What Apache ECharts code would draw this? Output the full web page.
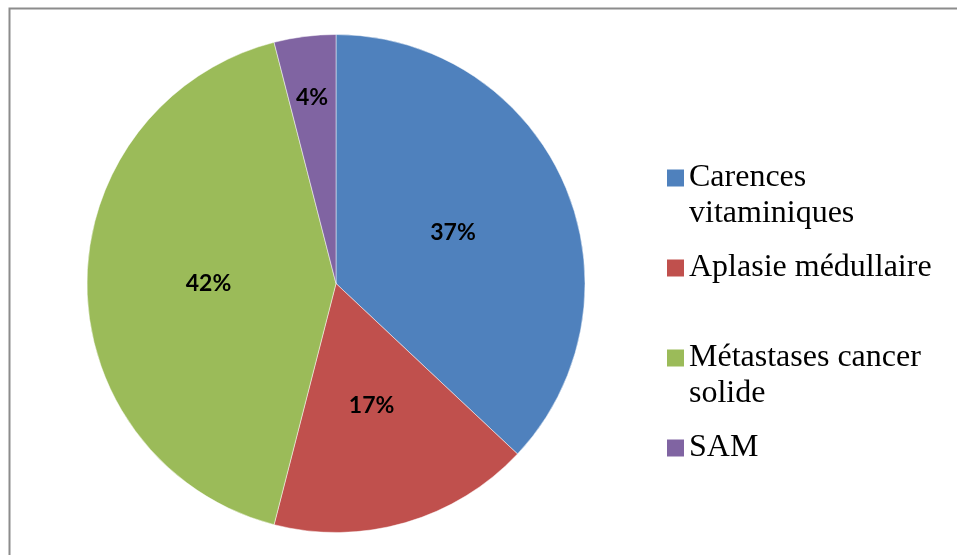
<!DOCTYPE html>
<html>
<head>
<meta charset="utf-8">
<script src="https://cdn.jsdelivr.net/npm/echarts@6/dist/echarts.min.js"></script>
<style>
html,body{margin:0;padding:0;background:#fff;}
#chart{width:957px;height:555px;}
</style>
</head>
<body>
<div id="chart"></div>
<script>
const categories = ['Carences vitaminiques', 'Aplasie médullaire', 'Métastases cancer solide', 'SAM'];
const values = [37, 17, 42, 4];
const legendLines = [['Carences', 'vitaminiques'], ['Aplasie médullaire', ' '], ['Métastases cancer', 'solide'], ['SAM', ' ']];
const colors = ['#4F81BD', '#C0504D', '#9BBB59', '#8064A2'];

const serif = "'Liberation Serif', 'DejaVu Serif', serif";
const rich = {
  t: { fontFamily: serif, fontSize: 32, lineHeight: 36, color: '#000' },
  g: { width: 5, height: 17 },
  s: { width: 22, height: 17 }
};
colors.forEach((c, i) => { rich['m' + i] = { width: 17, height: 17, backgroundColor: c }; });

const chart = echarts.init(document.getElementById('chart'), null, { renderer: 'canvas' });
chart.setOption({
  animation: false,
  color: colors,
  graphic: [{
    type: 'rect', left: 7, top: 6, silent: true,
    shape: { width: 1000, height: 600 },
    style: { fill: 'none', stroke: '#8c8c8c', lineWidth: 2 }
  }],
  legend: {
    orient: 'vertical',
    left: 657,
    top: 155,
    itemGap: 18,
    icon: 'none',
    itemWidth: 0,
    itemHeight: 0,
    data: categories,
    formatter: function (name) {
      const i = categories.indexOf(name);
      const l = legendLines[i];
      return '{m' + i + '|}{g|}{t|' + l[0] + '}\n{s|}{t|' + l[1] + '}';
    },
    textStyle: { fontFamily: serif, fontSize: 32, lineHeight: 36, color: '#000', rich: rich }
  },
  series: [{
    type: 'pie',
    center: [336, 283.5],
    radius: 249,
    startAngle: 90,
    clockwise: true,
    data: categories.map((n, i) => ({ name: n, value: values[i] })),
    itemStyle: { borderColor: 'rgba(255,255,255,0.6)', borderWidth: 0.8 },
    label: {
      position: 'inside',
      formatter: '{c}%',
      fontFamily: 'Lato',
      fontWeight: 'bold',
      fontSize: 23,
      color: '#000'
    },
    labelLine: { show: false },
    labelLayout: function (p) {
      return p.dataIndex === 3 ? { dx: -8, dy: -59 } : {};
    },
    emphasis: { disabled: true }
  }]
});
</script>
</body>
</html>
